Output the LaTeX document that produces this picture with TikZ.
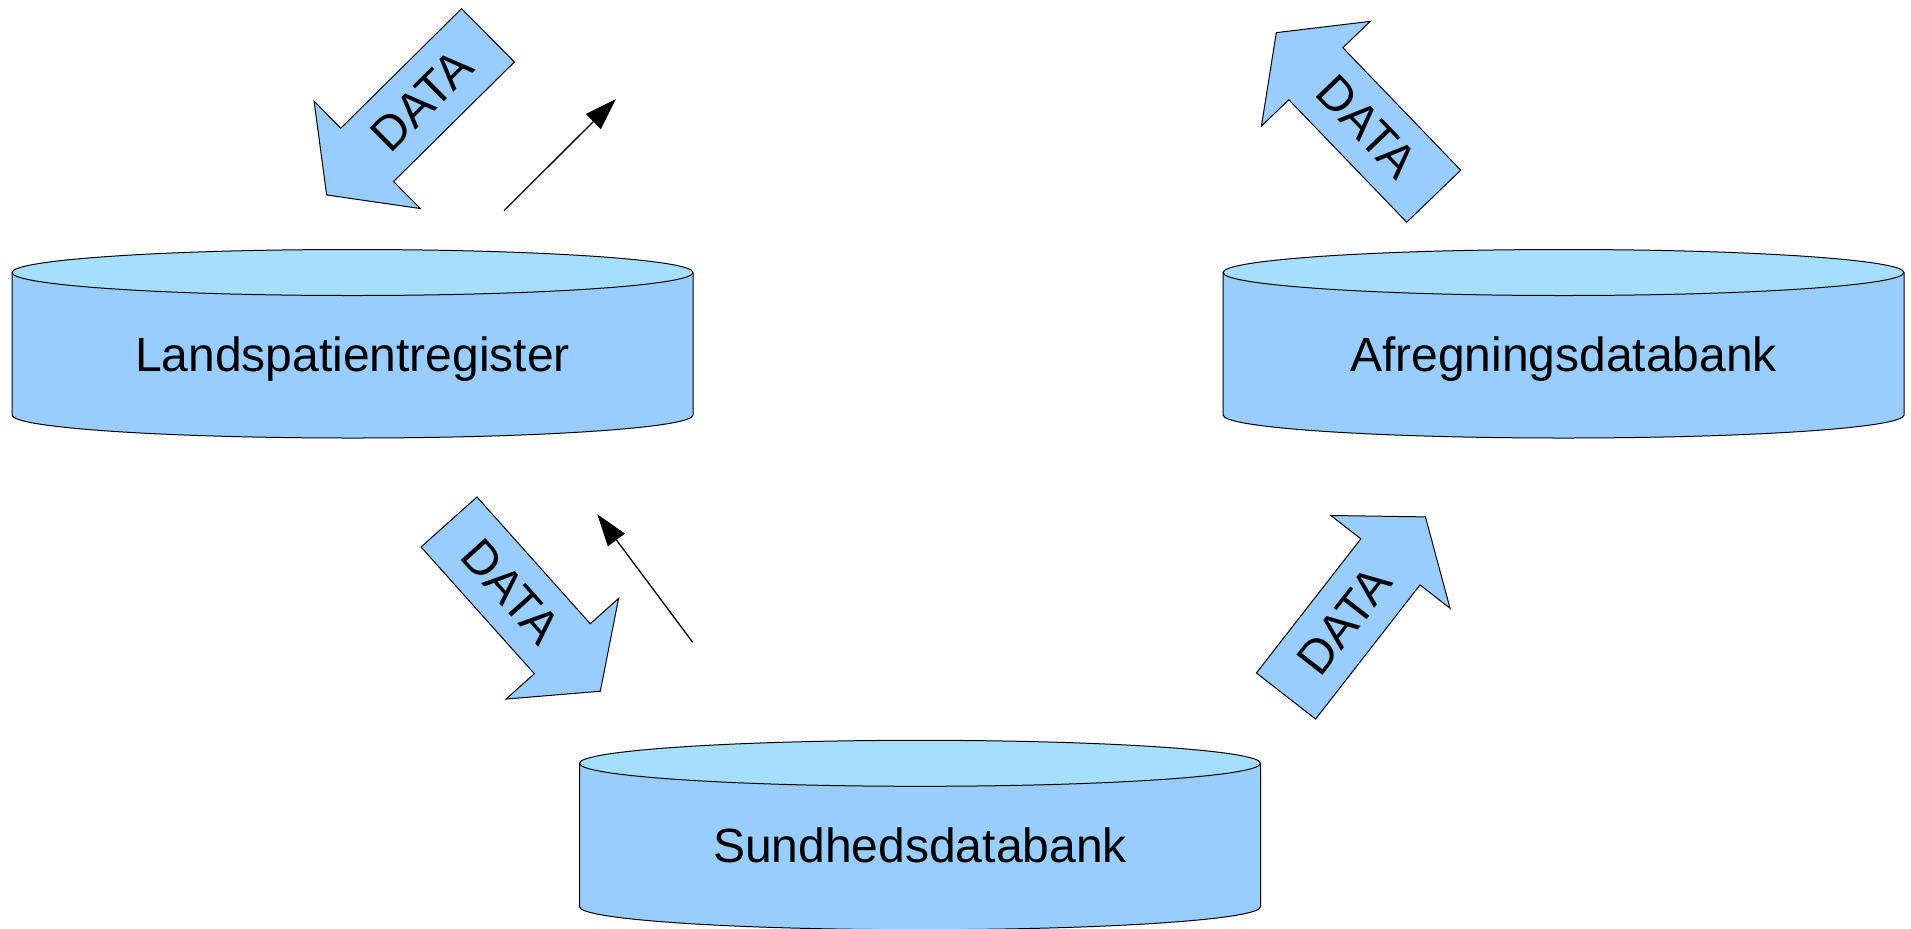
\documentclass[tikz,border=0pt]{standalone}
\usepackage{fontspec}
\setmainfont{Liberation Sans}
\usetikzlibrary{positioning,calc,arrows.meta}
\definecolor{dbbody}{RGB}{153,204,255}
\definecolor{dbtop}{RGB}{166,222,255}

\begin{document}
\begin{tikzpicture}[x=0.5pt,y=0.5pt]
		% 定义具体形状
		\tikzstyle{dbwall} = [draw=black, line width=0.5pt, fill=dbbody]	% 定义数据库侧面
		\tikzstyle{dbtopface} = [draw=black, line width=0.5pt, fill=dbtop]	% 定义数据库顶面
		\tikzstyle{dblabel} = [inner sep=0pt, anchor=base, font=\fontsize{24}{28}\selectfont]	% 定义数据库名称
		\tikzstyle{datashape} = [draw=black, line width=0.5pt, fill=dbbody]	% 定义数据箭头
		\tikzstyle{datalabel} = [inner sep=0pt, font=\fontsize{24}{28}\selectfont]	% 定义箭头文字
		\tikzstyle{arrow} = [line width=0.65pt, -{Triangle[length=16pt,width=10.5pt]}]	% 定义箭头
		\useasboundingbox (0,0) rectangle (1911,-928);

		% 数据库
		\draw [dbwall] (12,-272.5) -- (12,-415) arc [start angle=180, end angle=360, x radius=340.5, y radius=23] -- (693,-272.5);
		\draw [dbtopface] (352.5,-272.5) ellipse [x radius=340.5, y radius=23];
		\node (lpr) [dblabel] at (352.5,-371.7) {Landspatientregister};

		\draw [dbwall] (1223,-272.5) -- (1223,-415) arc [start angle=180, end angle=360, x radius=340.5, y radius=23] -- (1904,-272.5);
		\draw [dbtopface] (1563.5,-272.5) ellipse [x radius=340.5, y radius=23];
		\node (afr) [dblabel] at (1563.5,-371.7) {Afregningsdatabank};

		\draw [dbwall] (579.5,-763.3) -- (579.5,-906.7) arc [start angle=180, end angle=360, x radius=340.5, y radius=23] -- (1260.5,-763.3);
		\draw [dbtopface] (920,-763.3) ellipse [x radius=340.5, y radius=23];
		\node (sdb) [dblabel] at (920,-862.7) {Sundhedsdatabank};

		% 数据箭头
		\begin{scope}[shift={(488,-35.3)}, rotate=224.7]
			\draw [datashape] (0,37.5) -- (170,37.5) -- (170,75.5) -- (227,0) -- (170,-75.5) -- (170,-37.5) -- (0,-37.5) -- cycle;
			\node (data1) [datalabel, rotate=44.7] at (93,0) {DATA};
		\end{scope}
		\begin{scope}[shift={(449,-522)}, rotate=-48.2]
			\draw [datashape] (0,37.5) -- (170,37.5) -- (170,75.5) -- (227,0) -- (170,-75.5) -- (170,-37.5) -- (0,-37.5) -- cycle;
			\node (data2) [datalabel, rotate=-48.2] at (93,0) {DATA};
		\end{scope}
		\begin{scope}[shift={(1433.7,-196.2)}, rotate=133.9]
			\draw [datashape] (0,37.5) -- (170,37.5) -- (170,75.5) -- (227,0) -- (170,-75.5) -- (170,-37.5) -- (0,-37.5) -- cycle;
			\node (data3) [datalabel, rotate=-46.1] at (96,0) {DATA};
		\end{scope}
		\begin{scope}[shift={(1286,-696)}, rotate=52.1]
			\draw [datashape] (0,37.5) -- (170,37.5) -- (170,75.5) -- (227,0) -- (170,-75.5) -- (170,-37.5) -- (0,-37.5) -- cycle;
			\node (data4) [datalabel, rotate=52.1] at (95,0) {DATA};
		\end{scope}

		% 连接具体形状
		\coordinate (lprfrom) at (504,-210.7);
		\coordinate (lprto) at (616,-99);
		\coordinate (sdbfrom) at (692.7,-642.3);
		\coordinate (sdbto) at (597.3,-514.3);
		\draw [arrow] (lprfrom) -- (lprto);
		\draw [arrow] (sdbfrom) -- (sdbto);
	\end{tikzpicture}
\end{document}
